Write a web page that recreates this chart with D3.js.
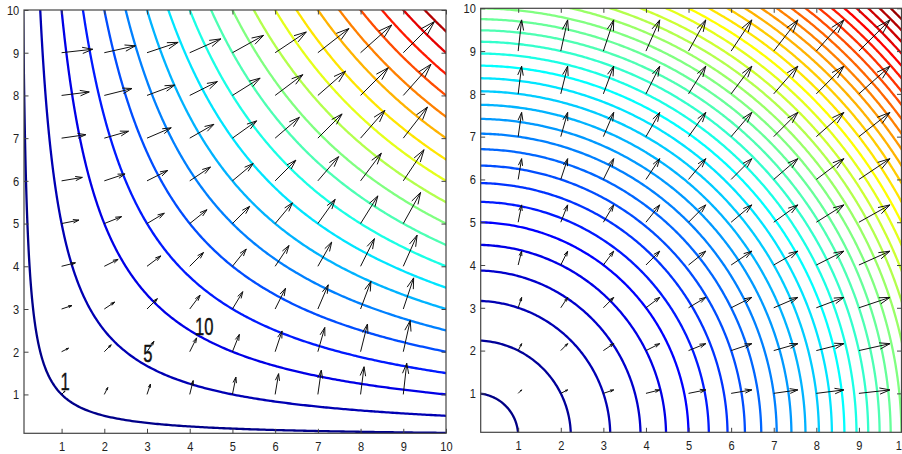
<!DOCTYPE html>
<meta charset="utf-8">
<style>
body {
    margin: 0;
    background: #fff;
}

.frame {
    fill: none;
    stroke: #444;
    stroke-width: 1.2px;
}

.tick line {
    stroke: #444;
    stroke-width: 1px;
}

.tick text {
    font-family: "Liberation Sans", Arial, sans-serif;
    font-size: 13.5px;
    fill: #222;
}

.clabel {
    font-family: "Liberation Sans", Arial, sans-serif;
    font-size: 23px;
    fill: #111;
    stroke: #111;
    stroke-width: 0.4px;
}

.contour {
    fill: none;
    stroke-width: 2.3px;
    stroke-linejoin: round;
}

.arrow {
    fill: none;
    stroke: #111;
    stroke-width: 1px;
}
</style>
<body>
    <script src="https://cdn.jsdelivr.net/npm/d3@7"></script>
    <script>
        const width = 902;
        const height = 454;

        // tick values shared by both panels
        const tickValues = [1, 2, 3, 4, 5, 6, 7, 8, 9, 10];
        // quiver sample positions (x and y)
        const arrowGrid = [1, 2, 3, 4, 5, 6, 7, 8, 9];

        // contour levels
        const levelsLeft = [1, 5, 10, 15, 20, 25, 30, 35, 40, 45, 50, 55, 60, 65, 70, 75, 80, 85, 90, 95];
        const levelsRight = [1, 5, 10, 15, 20, 25, 30, 35, 40, 45, 50, 55, 60, 65, 70, 75, 80, 85, 90, 95,
            100, 105, 110, 115, 120, 125, 130, 135, 140, 145, 150, 155, 160, 165, 170, 175, 180, 185, 190, 195];

        // inline contour labels on the left panel
        const labelText = ["1", "5", "10"];
        const labelX = [1.08, 3.02, 4.34];
        const labelY = [1.29, 1.96, 2.59];

        const arrowScale = 0.081;
        const domainX = [0.12, 10];
        const domainY = [0.09, 10];

        const panels = [
            {
                id: "left",
                rect: { x0: 24, x1: 446, y0: 10, y1: 433.3 },
                f: function(x, y) { return x * y; },
                grad: function(x, y) { return [y, x]; },
                levels: levelsLeft,
                cmax: 100
            },
            {
                id: "right",
                rect: { x0: 480.7, x1: 901.5, y0: 8.3, y1: 432.3 },
                f: function(x, y) { return x * x + y * y; },
                grad: function(x, y) { return [x, y]; },
                levels: levelsRight,
                cmax: 200
            }
        ];

        function jet(t) {
            const c = function(v) { return Math.max(0, Math.min(1, v)); };
            const r = c(1.5 - Math.abs(4 * t - 3));
            const g = c(1.5 - Math.abs(4 * t - 2));
            const b = c(1.5 - Math.abs(4 * t - 1));
            return d3.rgb(r * 255, g * 255, b * 255).toString();
        }

        const svg = d3.select("body").append("svg")
            .attr("width", width)
            .attr("height", height);

        const defs = svg.append("defs");

        // sampling grid, a bit larger than the plot so that the
        // contour rings close outside the clip area
        const g0 = -1;
        const step = 0.05;
        const n = 241;

        for (let p of panels) {
            const r = p.rect;
            const xs = d3.scaleLinear().domain(domainX).range([r.x0, r.x1]);
            const ys = d3.scaleLinear().domain(domainY).range([r.y1, r.y0]);

            defs.append("clipPath")
                .attr("id", "clip-" + p.id)
                .append("rect")
                .attr("x", r.x0)
                .attr("y", r.y0)
                .attr("width", r.x1 - r.x0)
                .attr("height", r.y1 - r.y0);

            const panel = svg.append("g");

            const plot = panel.append("g")
                .attr("clip-path", "url(#clip-" + p.id + ")");

            const values = new Array(n * n);
            for (let j = 0; j < n; j++) {
                for (let i = 0; i < n; i++) {
                    values[j * n + i] = p.f(g0 + i * step, g0 + j * step);
                }
            }

            const contours = d3.contours()
                .size([n, n])
                .thresholds(p.levels)(values);

            const path = d3.geoPath(d3.geoTransform({
                point: function(cx, cy) {
                    this.stream.point(xs(g0 + (cx - 0.5) * step), ys(g0 + (cy - 0.5) * step));
                }
            }));

            plot.selectAll(".contour")
                .data(contours)
                .enter()
                .append("path")
                .attr("class", "contour")
                .attr("stroke", function(d) { return jet(d.value / p.cmax); })
                .attr("d", path);

            // quiver arrows
            const arrows = [];
            for (let gx of arrowGrid) {
                for (let gy of arrowGrid) {
                    const v = p.grad(gx, gy);
                    arrows.push({ x: gx, y: gy, u: v[0] * arrowScale, v: v[1] * arrowScale });
                }
            }

            panel.selectAll(".arrow")
                .data(arrows)
                .enter()
                .append("path")
                .attr("class", "arrow")
                .attr("d", function(d) {
                    const sx = xs(d.x), sy = ys(d.y);
                    const tx = xs(d.x + d.u), ty = ys(d.y + d.v);
                    const du = tx - sx, dv = ty - sy;
                    const alpha = 0.33, beta = 0.3;
                    const h1x = tx - alpha * (du + beta * dv), h1y = ty - alpha * (dv - beta * du);
                    const h2x = tx - alpha * (du - beta * dv), h2y = ty - alpha * (dv + beta * du);
                    return "M" + sx + "," + sy + "L" + tx + "," + ty +
                        "M" + h1x + "," + h1y + "L" + tx + "," + ty + "L" + h2x + "," + h2y;
                });

            // box with inward ticks on all four sides
            const tickLen = 4.5;
            const squeeze = 0.82;

            const bottom = panel.append("g")
                .attr("transform", "translate(0," + r.y1 + ")")
                .call(d3.axisBottom(xs).tickValues(tickValues).tickSize(-tickLen).tickPadding(8.4));
            const left = panel.append("g")
                .attr("transform", "translate(" + r.x0 + ",0)")
                .call(d3.axisLeft(ys).tickValues(tickValues).tickSize(-tickLen).tickPadding(4.8 / squeeze));
            panel.append("g")
                .attr("transform", "translate(0," + r.y0 + ")")
                .call(d3.axisTop(xs).tickValues(tickValues).tickSize(-tickLen).tickFormat(""));
            panel.append("g")
                .attr("transform", "translate(" + r.x1 + ",0)")
                .call(d3.axisRight(ys).tickValues(tickValues).tickSize(-tickLen).tickFormat(""));

            panel.selectAll(".domain").remove();
            bottom.selectAll("text").attr("transform", "scale(" + squeeze + ",1)");
            left.selectAll("text").attr("transform", "scale(" + squeeze + ",1)");

            panel.append("rect")
                .attr("class", "frame")
                .attr("x", r.x0)
                .attr("y", r.y0)
                .attr("width", r.x1 - r.x0)
                .attr("height", r.y1 - r.y0);

            if (p.id === "left") {
                panel.selectAll(".clabel")
                    .data(labelText)
                    .enter()
                    .append("text")
                    .attr("class", "clabel")
                    .attr("text-anchor", "middle")
                    .attr("dy", "0.36em")
                    .attr("transform", function(d, i) {
                        return "translate(" + xs(labelX[i]) + "," + ys(labelY[i]) + ") scale(0.72,1)";
                    })
                    .text(function(d) { return d; });
            }
        }
    </script>
</body>
